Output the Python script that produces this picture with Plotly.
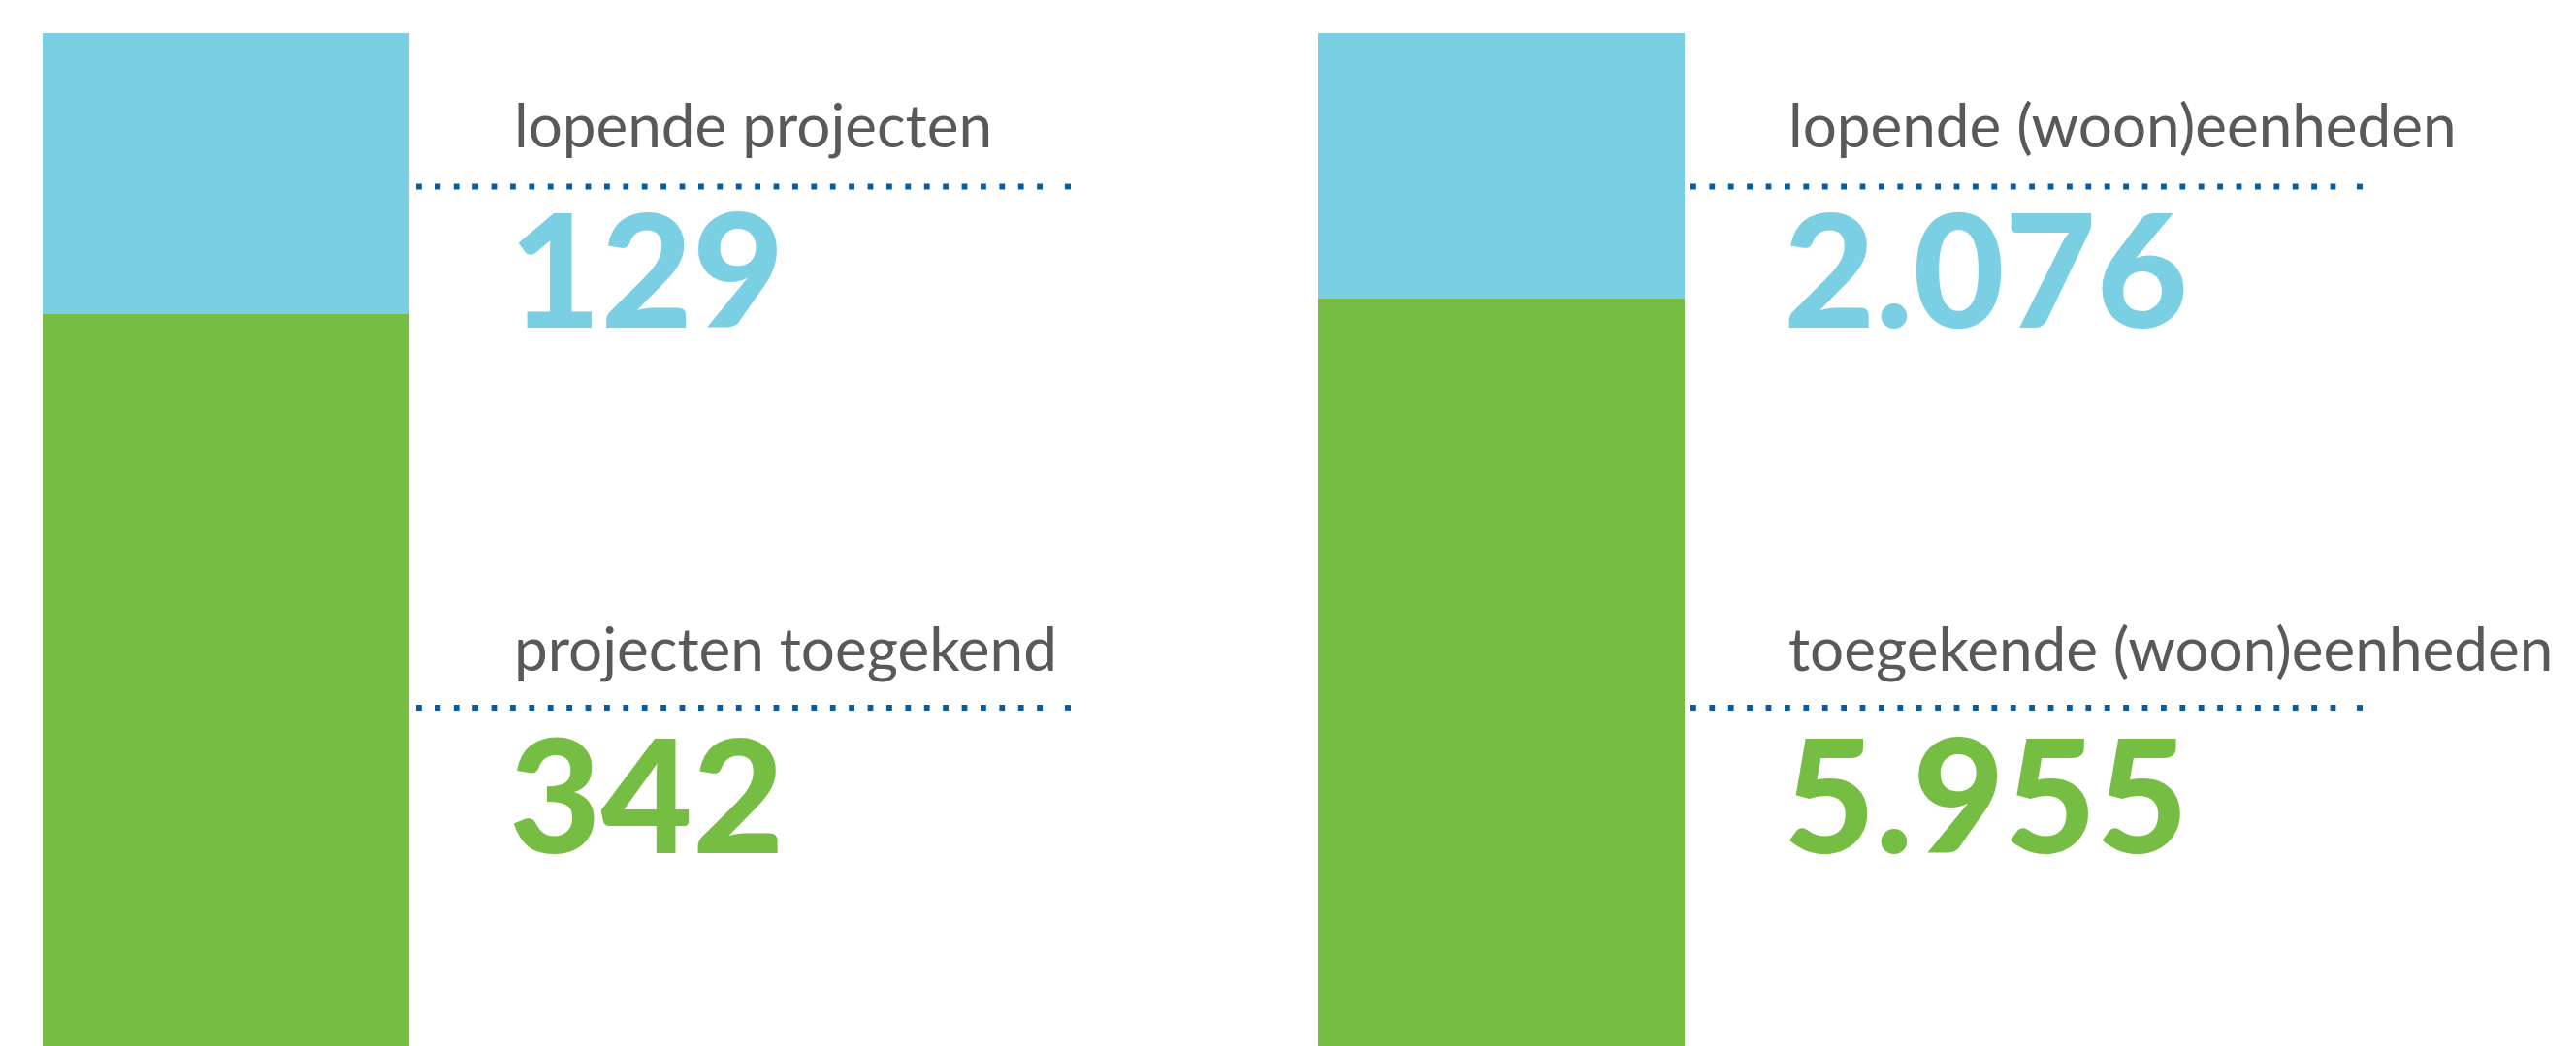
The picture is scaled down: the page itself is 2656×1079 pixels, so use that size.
import plotly.graph_objects as go

W, H = 2656, 1079

# ---- data ----
groups = ["projecten", "(woon)eenheden"]
toegekend = [342, 5955]          # green, bottom segment
lopend = [129, 2076]             # blue, top segment
label_lopend = ["lopende projecten", "lopende (woon)eenheden"]
label_toegekend = ["projecten toegekend", "toegekende (woon)eenheden"]
num_lopend = ["129", "2.076"]
num_toegekend = ["342", "5.955"]

BLUE = "#7BCFE3"
GREEN = "#76BE43"
GRAY = "#58595B"
DOT = "#0A5CA2"

# layout (pixels)
bar_x = [(44, 422), (1359, 1737)]
bar_top_px = 34
bar_base_px = 1092.5  # bar base lies just below the picture edge
dot_x = [(429, 1075.5), (1743, 2409)]      # main dotted run
last_dot_x = [(1098, 1104), (2430, 2436)]  # detached final dot
dot_y = [192.5, 730]
label_base = [153, 693]
num_base = [339, 881]
label_x = [529, 1843]
num_x = [524, 1838]

fig = go.Figure()

for i in range(2):
    xa = "x" if i == 0 else "x2"
    ya = "y" if i == 0 else "y2"
    fig.add_trace(go.Bar(x=[groups[i]], y=[toegekend[i]], marker=dict(color=GREEN, line=dict(width=0)),
                         width=1, xaxis=xa, yaxis=ya, showlegend=False, hoverinfo="skip"))
    fig.add_trace(go.Bar(x=[groups[i]], y=[lopend[i]], marker=dict(color=BLUE, line=dict(width=0)),
                         width=1, xaxis=xa, yaxis=ya, showlegend=False, hoverinfo="skip"))

def px2x(p):
    return p / W

def px2y(p):
    return 1 - p / H

ydom_top = px2y(bar_top_px)
span = bar_base_px - bar_top_px
visible = H - bar_top_px
axis_common = dict(showgrid=False, zeroline=False, showticklabels=False, showline=False, ticks="", fixedrange=True)

totals = [toegekend[i] + lopend[i] for i in range(2)]
for i in range(2):
    T = totals[i]
    ymin = T * (1 - visible / span)
    sfx = "" if i == 0 else "2"
    fig.layout["xaxis" + sfx] = dict(domain=[px2x(bar_x[i][0]), px2x(bar_x[i][1])], range=[-0.5, 0.5], **axis_common)
    fig.layout["yaxis" + sfx] = dict(domain=[0, ydom_top], range=[ymin, T], anchor="x" + sfx, **axis_common)
fig.layout["xaxis2"]["anchor"] = "y2"

LABEL_FONT = dict(family="Lato, Open Sans, sans-serif", size=62, color=GRAY, weight=400)
def num_font(c):
    return dict(family="Lato, Roboto, sans-serif", size=163, color=c, weight=900)

ann = []
shapes = []
for i in range(2):
    for text, base in [(label_lopend[i], label_base[0]), (label_toegekend[i], label_base[1])]:
        ann.append(dict(text=text, x=px2x(label_x[i]), y=px2y(base + 0.213 * LABEL_FONT["size"]),
                        xref="paper", yref="paper", xanchor="left", yanchor="bottom",
                        showarrow=False, font=LABEL_FONT, borderpad=0))
    for text, base, col in [(num_lopend[i], num_base[0], BLUE), (num_toegekend[i], num_base[1], GREEN)]:
        f = num_font(col)
        ann.append(dict(text=text, x=px2x(num_x[i]), y=px2y(base + 0.213 * f["size"]),
                        xref="paper", yref="paper", xanchor="left", yanchor="bottom",
                        showarrow=False, font=f, borderpad=0))
    for yy in dot_y:
        shapes.append(dict(type="line", xref="paper", yref="paper",
                           x0=px2x(dot_x[i][0]), x1=px2x(dot_x[i][1]), y0=px2y(yy), y1=px2y(yy),
                           line=dict(color=DOT, width=5.8, dash="5.8px,13.6px")))
        shapes.append(dict(type="line", xref="paper", yref="paper",
                           x0=px2x(last_dot_x[i][0]), x1=px2x(last_dot_x[i][1]), y0=px2y(yy), y1=px2y(yy),
                           line=dict(color=DOT, width=5.8)))

fig.update_layout(width=W, height=H, margin=dict(l=0, r=0, t=0, b=0),
                  paper_bgcolor="white", plot_bgcolor="white", barmode="stack", bargap=0,
                  annotations=ann, shapes=shapes, showlegend=False)

fig.write_html("out.html", config={"displayModeBar": False},
               post_script="document.body.style.margin='0px';document.body.style.overflow='hidden';")
